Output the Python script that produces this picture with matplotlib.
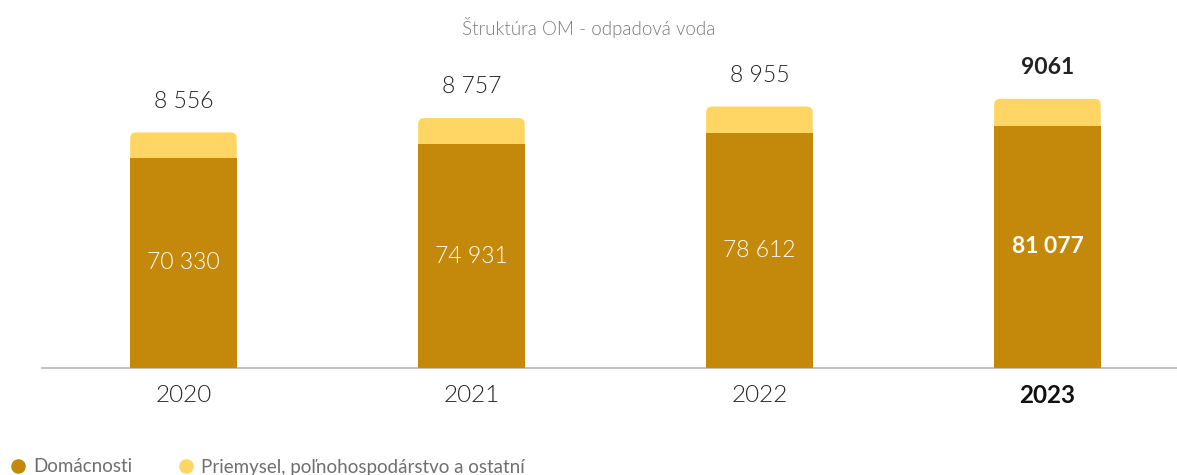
import matplotlib.pyplot as plt
from matplotlib.patches import FancyBboxPatch
from matplotlib.lines import Line2D

plt.rcParams['font.family'] = ['Lato', 'DejaVu Sans']

years = ["2020", "2021", "2022", "2023"]
households = [70330, 74931, 78612, 81077]
industry = [8556, 8757, 8955, 9061]
households_labels = ["70 330", "74 931", "78 612", "81 077"]
industry_labels = ["8 556", "8 757", "8 955", "9061"]

dark = "#C4890A"
light = "#FFD664"

fig = plt.figure(figsize=(11.77, 4.75), dpi=100)
ax = fig.add_axes([42 / 1177, 107 / 475, 1135 / 1177, 330 / 475])
ax.set_xlim(-0.491, 3.45)
ax.set_ylim(0, 110500)

w = 0.37
x = range(len(years))
rad_x = 6 / 288
rad_y = 6 * 335

for i in x:
    # light top segment with rounded corners, tucked under the dark bar
    b, h = households[i], industry[i]
    patch = FancyBboxPatch((i - w / 2, b - 3000), w, h + 3000,
                           boxstyle=f"round,pad=0,rounding_size={rad_x}",
                           mutation_aspect=rad_y / rad_x,
                           facecolor=light, edgecolor="none", zorder=2)
    ax.add_patch(patch)

ax.bar(x, households, width=w, color=dark, zorder=3)

for i in x:
    bold = years[i] == "2023"
    fw = "bold" if bold else 300
    ax.text(i, households[i] / 2, households_labels[i], ha="center", va="center",
            color="white", fontsize=16.5, fontweight=fw, zorder=4)
    ax.annotate(industry_labels[i], (i, households[i] + industry[i]),
                xytext=(0, 22.5), textcoords="offset points", ha="center", va="center",
                color="#222222", fontsize=16.5, fontweight=fw)
    ax.annotate(years[i], (i, 0), xytext=(0, -20), textcoords="offset points",
                ha="center", va="center", color="#222222" if not bold else "#111111",
                fontsize=17.5, fontweight=fw)

for s in ["top", "right", "left"]:
    ax.spines[s].set_visible(False)
ax.spines["bottom"].set_color("#b5b5b5")
ax.spines["bottom"].set_linewidth(1.2)
ax.set_xticks([])
ax.set_yticks([])

fig.text(0.5, 1 - 28 / 475, "Štruktúra OM - odpadová voda", ha="center", va="center",
         color="#7a7a7a", fontsize=13.5, fontweight=300)

handles = [Line2D([], [], marker="o", linestyle="none", markersize=10.5,
                  markerfacecolor=dark, markeredgecolor="none"),
           Line2D([], [], marker="o", linestyle="none", markersize=10.5,
                  markerfacecolor=light, markeredgecolor="none")]
leg = fig.legend(handles, ["Domácnosti", "Priemysel, poľnohospodárstvo a ostatní"],
                 loc="center left", bbox_to_anchor=(0.002, 1 - 467 / 475), ncol=2,
                 frameon=False, fontsize=13.5, handletextpad=0.35, columnspacing=2.4,
                 handlelength=0.9, borderaxespad=0)
for t in leg.get_texts():
    t.set_color("#6f6f6f")

fig.savefig("out.png", dpi=100)
